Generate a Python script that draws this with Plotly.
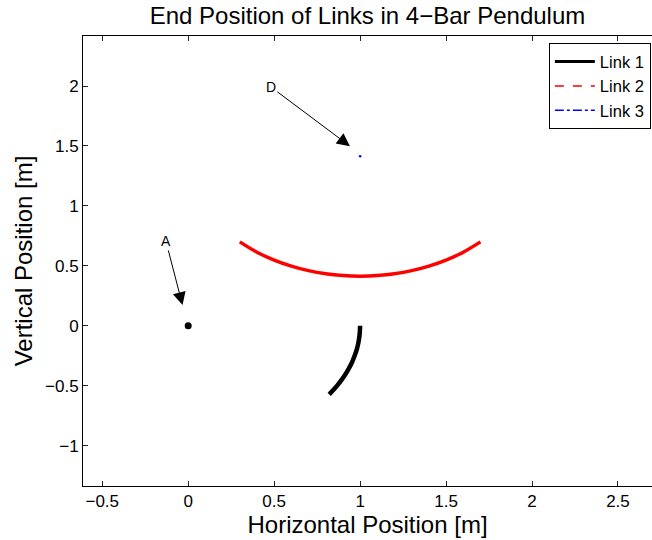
import plotly.graph_objects as go

# ---- data ----
link1_x = [1.000, 0.998, 0.992, 0.982, 0.968, 0.951, 0.930, 0.906, 0.878, 0.848, 0.820]
link1_y = [0.000, -0.060, -0.125, -0.190, -0.250, -0.310, -0.367, -0.423, -0.478, -0.530, -0.572]

link2_x = [0.30, 0.40, 0.50, 0.60, 0.70, 0.80, 0.90, 1.00, 1.10, 1.20, 1.30, 1.40, 1.50, 1.60, 1.70]
link2_y = [0.700, 0.614, 0.548, 0.498, 0.460, 0.434, 0.419, 0.414, 0.419, 0.434, 0.460, 0.498, 0.548, 0.614, 0.700]

link3_x = [1.0]
link3_y = [1.414]

pivot_a_x = [0.0]
pivot_a_y = [0.0]

x_ticks = [-0.5, 0, 0.5, 1, 1.5, 2, 2.5]
x_ticklabels = ["\u22120.5", "0", "0.5", "1", "1.5", "2", "2.5"]
y_ticks = [-1, -0.5, 0, 0.5, 1, 1.5, 2]
y_ticklabels = ["\u22121", "\u22120.5", "0", "0.5", "1", "1.5", "2"]

FONT = "Liberation Sans, Arial, Helvetica, sans-serif"

fig = go.Figure()

# visible data (solid, dense curves)
fig.add_trace(go.Scatter(x=link1_x, y=link1_y, mode="lines", line_shape="spline",
                         line=dict(color="black", width=4.5), showlegend=False))
fig.add_trace(go.Scatter(x=link2_x, y=link2_y, mode="lines", line_shape="spline",
                         line=dict(color="#ff0000", width=3.5), showlegend=False))
fig.add_trace(go.Scatter(x=link3_x, y=link3_y, mode="markers",
                         marker=dict(color="#0000ff", size=2.5), showlegend=False))
fig.add_trace(go.Scatter(x=pivot_a_x, y=pivot_a_y, mode="markers",
                         marker=dict(color="black", size=7), showlegend=False))

# legend entries
fig.add_trace(go.Scatter(x=[None], y=[None], mode="lines", name="Link 1",
                         line=dict(color="black", width=3)))
fig.add_trace(go.Scatter(x=[None], y=[None], mode="lines", name="Link 2",
                         line=dict(color="#ff0000", width=1.5, dash="dash")))
fig.add_trace(go.Scatter(x=[None], y=[None], mode="lines", name="Link 3",
                         line=dict(color="#0000ff", width=1.5, dash="dashdot")))

annotations = [
    dict(text="A", x=-0.033, y=0.1725, ax=-0.130, ay=0.708),
    dict(text="D", x=0.941, y=1.498, ax=0.481, ay=1.992),
]
for a in annotations:
    fig.add_annotation(x=a["x"], y=a["y"], ax=a["ax"], ay=a["ay"],
                       xref="x", yref="y", axref="x", ayref="y",
                       text=a["text"], showarrow=True, arrowhead=2,
                       arrowsize=2.6, arrowwidth=1, arrowcolor="black",
                       font=dict(family=FONT, size=14, color="black"))

fig.update_layout(
    width=652, height=540,
    margin=dict(l=83, r=0, t=36, b=54),
    paper_bgcolor="white", plot_bgcolor="white",
    font=dict(family=FONT, color="black"),
    title=dict(text="End Position of Links in 4\u2212Bar Pendulum",
               x=(83 + 652) / 2 / 652, xanchor="center",
               y=1 - 16 / 540, yanchor="middle", yref="container",
               font=dict(family=FONT, size=24, color="black")),
    legend=dict(x=0.998, xanchor="right", y=0.984, yanchor="top",
                bordercolor="black", borderwidth=1, bgcolor="white",
                font=dict(family=FONT, size=16.5, color="black"),
                tracegroupgap=0, itemwidth=40),
    showlegend=True,
)

fig.update_xaxes(range=[-0.612, 2.698], tickvals=x_ticks, ticktext=x_ticklabels,
                 ticks="inside", ticklen=5, tickcolor="#262626", tickwidth=1,
                 showline=True, linecolor="black", linewidth=1, mirror="ticks",
                 showgrid=False, zeroline=False,
                 tickfont=dict(family=FONT, size=17, color="black"),
                 title=dict(text="Horizontal Position [m]", standoff=3,
                            font=dict(family=FONT, size=24, color="black")))
fig.update_yaxes(range=[-1.336, 2.417], tickvals=y_ticks, ticktext=y_ticklabels,
                 ticks="inside", ticklen=5, tickcolor="#262626", tickwidth=1,
                 showline=True, linecolor="black", linewidth=1, mirror=False,
                 showgrid=False, zeroline=False,
                 tickfont=dict(family=FONT, size=17, color="black"),
                 title=dict(text="Vertical Position [m]", standoff=5,
                            font=dict(family=FONT, size=24, color="black")))

fig.write_html("out.html")
